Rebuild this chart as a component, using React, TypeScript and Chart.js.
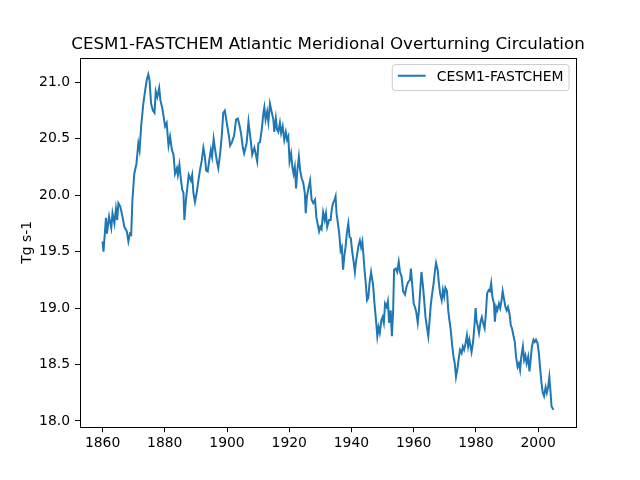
import React, { useEffect, useRef } from 'react';
import { Chart, registerables } from 'chart.js';

Chart.register(...registerables);

const TITLE = 'CESM1-FASTCHEM Atlantic Meridional Overturning Circulation';
const SERIES_NAME = 'CESM1-FASTCHEM';
const Y_LABEL = 'Tg s-1';

// Decimal years of the sampled AMOC values
const years = [
  1860.0, 1860.3, 1861.1, 1861.4, 1862.1, 1862.8, 1863.2, 1863.8, 1864.3, 1864.7,
  1865.1, 1865.7, 1866.4, 1867.0, 1867.8, 1868.3, 1868.8, 1869.2, 1869.6, 1870.2,
  1870.9, 1871.5, 1871.9, 1872.4, 1873.1, 1873.7, 1874.2, 1874.7, 1875.1, 1875.6,
  1876.2, 1876.7, 1877.1, 1877.6, 1878.2, 1878.6, 1879.2, 1879.6, 1880.1, 1880.6,
  1881.2, 1881.7, 1882.3, 1882.8, 1883.3, 1883.9, 1884.2, 1884.7, 1885.1, 1885.6,
  1886.0, 1886.3, 1886.8, 1887.3, 1887.7, 1888.4, 1888.8, 1889.2, 1889.7, 1890.3,
  1890.8, 1891.3, 1891.9, 1892.4, 1892.9, 1893.3, 1893.8, 1894.3, 1894.8, 1895.2,
  1895.7, 1896.2, 1896.7, 1897.2, 1897.8, 1898.3, 1898.8, 1899.3, 1899.7, 1900.1,
  1900.6, 1901.0, 1901.6, 1902.3, 1902.9, 1903.5, 1904.0, 1904.5, 1905.1, 1905.5,
  1906.3, 1906.9, 1907.2, 1907.6, 1908.1, 1908.8, 1909.2, 1909.7, 1910.1, 1910.6,
  1911.2, 1911.7, 1912.0, 1912.4, 1912.9, 1913.3, 1913.8, 1914.4, 1914.9, 1915.2,
  1915.7, 1916.1, 1916.5, 1917.0, 1917.4, 1917.9, 1918.4, 1918.9, 1919.3, 1919.7,
  1920.1, 1920.6, 1921.0, 1921.4, 1921.8, 1922.2, 1922.6, 1923.1, 1923.5, 1924.0,
  1924.5, 1925.0, 1925.3, 1925.7, 1926.1, 1926.7, 1927.2, 1927.7, 1928.3, 1928.7,
  1929.1, 1929.6, 1930.0, 1930.4, 1930.9, 1931.4, 1931.8, 1932.2, 1932.8, 1933.3,
  1933.7, 1934.1, 1934.6, 1934.9, 1935.2, 1935.7, 1936.1, 1936.5, 1936.9, 1937.3,
  1937.7, 1938.1, 1938.5, 1939.0, 1939.4, 1939.8, 1940.2, 1940.7, 1941.1, 1941.4,
  1941.9, 1942.3, 1942.7, 1943.1, 1943.5, 1943.8, 1944.2, 1944.6, 1945.0, 1945.4,
  1945.8, 1946.3, 1946.7, 1947.0, 1947.4, 1947.9, 1948.3, 1948.7, 1949.1, 1949.6,
  1950.0, 1950.4, 1950.8, 1951.3, 1951.7, 1952.1, 1952.6, 1953.0, 1953.4, 1953.7,
  1954.2, 1954.7, 1955.2, 1955.6, 1956.1, 1956.6, 1957.2, 1957.7, 1958.2, 1958.8,
  1959.1, 1959.5, 1960.0, 1960.4, 1960.8, 1961.3, 1961.7, 1962.1, 1962.5, 1963.0,
  1963.4, 1963.8, 1964.2, 1964.7, 1965.1, 1965.5, 1965.9, 1966.4, 1966.8, 1967.2,
  1967.7, 1968.1, 1968.5, 1969.0, 1969.4, 1969.8, 1970.2, 1970.7, 1971.1, 1971.5,
  1971.9, 1972.4, 1972.8, 1973.2, 1973.6, 1974.1, 1974.5, 1974.9, 1975.4, 1975.8,
  1976.2, 1976.7, 1977.1, 1977.5, 1977.9, 1978.6, 1979.1, 1979.6, 1979.9, 1980.2,
  1980.6, 1981.0, 1981.5, 1981.9, 1982.3, 1982.8, 1983.2, 1983.6, 1984.1, 1984.5,
  1984.9, 1985.3, 1985.8, 1986.1, 1986.5, 1986.9, 1987.4, 1987.8, 1988.2, 1988.6,
  1989.1, 1989.5, 1989.9, 1990.3, 1990.8, 1991.2, 1991.6, 1992.1, 1992.5, 1992.9,
  1993.4, 1993.8, 1994.2, 1994.6, 1995.1, 1995.5, 1995.9, 1996.3, 1996.8, 1997.2,
  1997.6, 1998.0, 1998.5, 1998.9, 1999.3, 1999.8, 2000.2, 2000.6, 2001.1, 2001.5,
  2001.9, 2002.4, 2002.8, 2003.2, 2003.6, 2004.0, 2004.3, 2004.9,
];

// Overturning strength, Tg s-1
const amoc = [
  19.59, 19.50, 19.80, 19.66, 19.81, 19.71, 19.84, 19.75, 19.88, 19.78,
  19.93, 19.90, 19.81, 19.72, 19.68, 19.59, 19.66, 19.65, 19.96, 20.19,
  20.28, 20.46, 20.40, 20.61, 20.81, 20.93, 21.02, 21.07, 21.02, 20.81,
  20.75, 20.73, 20.92, 20.87, 20.95, 20.84, 20.77, 20.70, 20.61, 20.64,
  20.44, 20.52, 20.40, 20.36, 20.19, 20.24, 20.18, 20.27, 20.16, 20.05,
  20.02, 19.78, 19.96, 20.08, 20.18, 20.13, 20.18, 20.02, 19.94, 20.03,
  20.13, 20.22, 20.31, 20.42, 20.34, 20.22, 20.21, 20.31, 20.40, 20.34,
  20.50, 20.40, 20.31, 20.24, 20.37, 20.52, 20.73, 20.75, 20.68, 20.61,
  20.53, 20.44, 20.47, 20.53, 20.67, 20.68, 20.62, 20.55, 20.42, 20.37,
  20.46, 20.65, 20.58, 20.49, 20.36, 20.42, 20.37, 20.30, 20.46, 20.47,
  20.59, 20.73, 20.78, 20.67, 20.74, 20.65, 20.81, 20.73, 20.67, 20.56,
  20.68, 20.58, 20.56, 20.64, 20.55, 20.61, 20.49, 20.56, 20.49, 20.52,
  20.30, 20.37, 20.25, 20.19, 20.25, 20.06, 20.22, 20.34, 20.22, 20.15,
  20.11, 20.02, 19.84, 19.99, 20.05, 20.13, 19.96, 19.93, 19.96, 19.81,
  19.75, 19.68, 19.72, 19.70, 19.85, 19.78, 19.84, 19.72, 19.78, 19.78,
  19.88, 19.93, 19.96, 19.99, 19.84, 19.74, 19.65, 19.51, 19.54, 19.34,
  19.46, 19.54, 19.66, 19.75, 19.63, 19.62, 19.51, 19.41, 19.32, 19.40,
  19.49, 19.56, 19.60, 19.54, 19.59, 19.49, 19.34, 19.22, 19.07, 19.09,
  19.22, 19.32, 19.25, 19.19, 19.04, 18.89, 18.75, 18.83, 18.78, 18.89,
  18.92, 18.87, 19.04, 19.01, 19.06, 18.87, 18.98, 18.75, 18.98, 19.34,
  19.35, 19.32, 19.41, 19.32, 19.28, 19.15, 19.12, 19.19, 19.23, 19.25,
  19.35, 19.22, 19.04, 19.01, 18.97, 18.87, 18.98, 19.16, 19.32, 19.19,
  19.06, 18.92, 18.84, 18.75, 18.89, 19.03, 19.12, 19.22, 19.32, 19.40,
  19.34, 19.22, 19.13, 19.07, 19.16, 19.10, 19.18, 19.15, 18.98, 18.89,
  18.81, 18.66, 18.57, 18.51, 18.39, 18.47, 18.56, 18.63, 18.60, 18.66,
  18.63, 18.69, 18.76, 18.66, 18.72, 18.61, 18.70, 18.87, 19.00, 18.89,
  18.84, 18.78, 18.88, 18.92, 18.87, 18.82, 18.95, 19.13, 19.16, 19.15,
  19.22, 19.10, 19.04, 18.88, 19.01, 18.98, 19.04, 19.00, 19.06, 19.15,
  19.07, 19.01, 18.98, 19.01, 18.95, 18.85, 18.82, 18.75, 18.70, 18.57,
  18.48, 18.51, 18.45, 18.57, 18.66, 18.54, 18.58, 18.51, 18.57, 18.44,
  18.54, 18.66, 18.72, 18.70, 18.72, 18.69, 18.61, 18.48, 18.33, 18.25,
  18.22, 18.30, 18.25, 18.30, 18.39, 18.25, 18.13, 18.10,
];

const xTicks = [1860, 1880, 1900, 1920, 1940, 1960, 1980, 2000];
const yTicks = [18.0, 18.5, 19.0, 19.5, 20.0, 20.5, 21.0];

const LINE_COLOR = '#1f77b4';
const FONT = 'DejaVu Sans, sans-serif';

// Title, y-axis label, frame and legend box drawn around the plot area
const decorations = {
  id: 'decorations',
  afterDatasetsDraw(chart: any) {
    const { ctx, chartArea } = chart;
    const { left, right, top, bottom } = chartArea;
    ctx.save();
    ctx.strokeStyle = '#000';
    ctx.lineWidth = 1;
    ctx.strokeRect(Math.round(left) + 0.5, Math.round(top) + 0.5,
      Math.round(right) - Math.round(left), Math.round(bottom) - Math.round(top));
    ctx.restore();
  },
  afterDraw(chart: any) {
    const { ctx, chartArea } = chart;
    const { left, right, top, bottom } = chartArea;
    ctx.save();
    ctx.fillStyle = '#000';

    // title
    ctx.font = `16.7px ${FONT}`;
    ctx.textAlign = 'center';
    ctx.textBaseline = 'alphabetic';
    ctx.fillText(TITLE, (left + right) / 2, top - 8.2);

    // y-axis label
    ctx.font = `13.9px ${FONT}`;
    ctx.save();
    ctx.translate(30.5, (top + bottom) / 2);
    ctx.rotate(-Math.PI / 2);
    ctx.textAlign = 'center';
    ctx.fillText(Y_LABEL, 0, 0);
    ctx.restore();

    // legend
    const fs = 13.9;
    ctx.font = `${fs}px ${FONT}`;
    const tw = ctx.measureText(SERIES_NAME).width;
    const pad = 0.4 * fs;
    const handle = 2.0 * fs;
    const gap = 0.8 * fs;
    const boxRight = right - 0.5 * fs;
    const boxTop = top + 0.5 * fs;
    const boxW = pad + handle + gap + tw + pad;
    const boxH = 26;
    const boxLeft = boxRight - boxW;
    const r = 3;
    ctx.beginPath();
    ctx.moveTo(boxLeft + r, boxTop);
    ctx.lineTo(boxRight - r, boxTop);
    ctx.arcTo(boxRight, boxTop, boxRight, boxTop + r, r);
    ctx.lineTo(boxRight, boxTop + boxH - r);
    ctx.arcTo(boxRight, boxTop + boxH, boxRight - r, boxTop + boxH, r);
    ctx.lineTo(boxLeft + r, boxTop + boxH);
    ctx.arcTo(boxLeft, boxTop + boxH, boxLeft, boxTop + boxH - r, r);
    ctx.lineTo(boxLeft, boxTop + r);
    ctx.arcTo(boxLeft, boxTop, boxLeft + r, boxTop, r);
    ctx.closePath();
    ctx.fillStyle = 'rgba(255,255,255,0.8)';
    ctx.fill();
    ctx.strokeStyle = '#cccccc';
    ctx.lineWidth = 1;
    ctx.stroke();

    const midY = boxTop + 11.2;
    ctx.strokeStyle = LINE_COLOR;
    ctx.lineWidth = 2;
    ctx.beginPath();
    ctx.moveTo(boxLeft + pad, midY);
    ctx.lineTo(boxLeft + pad + handle, midY);
    ctx.stroke();

    ctx.fillStyle = '#000';
    ctx.textAlign = 'left';
    ctx.textBaseline = 'alphabetic';
    ctx.fillText(SERIES_NAME, boxLeft + pad + handle + gap, boxTop + 16.3);
    ctx.restore();
  },
};

export default function App() {
  const canvasRef = useRef<HTMLCanvasElement | null>(null);

  useEffect(() => {
    const canvas = canvasRef.current;
    if (!canvas) return;
    const points = years.map((yr, i) => ({ x: yr, y: amoc[i] }));
    const tickFont = { family: FONT, size: 13.9 };

    const chart = new Chart(canvas, {
      type: 'line',
      data: {
        datasets: [
          {
            label: SERIES_NAME,
            data: points,
            borderColor: LINE_COLOR,
            borderWidth: 2,
            pointRadius: 0,
            tension: 0,
            fill: false,
          },
        ],
      },
      options: {
        responsive: false,
        animation: false,
        devicePixelRatio: 1,
        layout: { padding: { top: 57.6, right: 64, left: 0, bottom: 0 } },
        plugins: {
          legend: { display: false },
          title: { display: false },
          tooltip: { enabled: false },
        },
        scales: {
          x: {
            type: 'linear',
            min: 1852.75,
            max: 2012.17,
            afterBuildTicks: (s: any) => {
              s.ticks = xTicks.map((v) => ({ value: v }));
            },
            afterFit: (s: any) => {
              s.height = 52.8;
            },
            grid: {
              drawOnChartArea: false,
              drawTicks: true,
              tickLength: 5,
              color: '#000',
              lineWidth: 1,
            },
            border: { display: false },
            ticks: {
              autoSkip: false,
              maxRotation: 0,
              color: '#000',
              font: tickFont,
              padding: 3,
              callback: (v: any) => String(v),
            },
          },
          y: {
            type: 'linear',
            min: 17.945,
            max: 21.219,
            afterBuildTicks: (s: any) => {
              s.ticks = yTicks.map((v) => ({ value: v }));
            },
            afterFit: (s: any) => {
              s.width = 80;
            },
            grid: {
              drawOnChartArea: false,
              drawTicks: true,
              tickLength: 5,
              color: '#000',
              lineWidth: 1,
            },
            border: { display: false },
            ticks: {
              autoSkip: false,
              color: '#000',
              font: tickFont,
              padding: 5,
              callback: (v: any) => Number(v).toFixed(1),
            },
          },
        },
      },
      plugins: [decorations],
    });

    return () => chart.destroy();
  }, []);

  return (
    <div style={{ position: 'absolute', left: 0, top: 0, width: 640, height: 480, background: '#fff' }}>
      <canvas ref={canvasRef} width={640} height={480} style={{ display: 'block' }} />
    </div>
  );
}
